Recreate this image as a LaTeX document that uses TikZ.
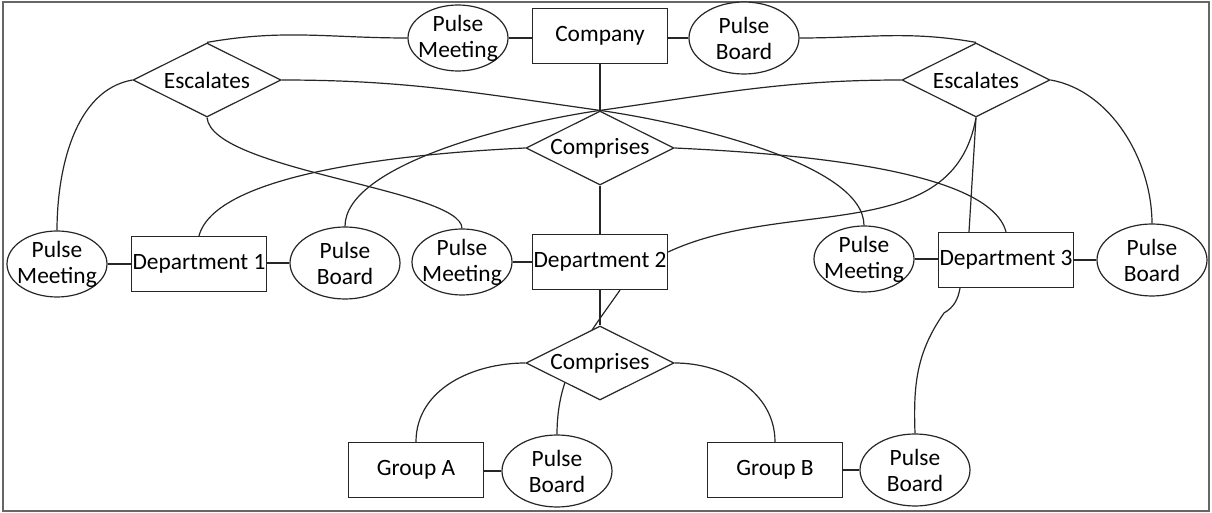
\documentclass[tikz,border=0pt]{standalone}
\usepackage{fontspec}
\setmainfont{Carlito}
\usetikzlibrary{shapes.geometric,calc,backgrounds}
\begin{document}
\begin{tikzpicture}[x=0.5pt,y=0.5pt,
  every node/.style={font=\fontsize{11.7}{13}\selectfont, align=center, text=black},
  link/.style={draw=black!85, line width=0.6pt},
  shapeline/.style={draw=black!85, line width=0.6pt, fill=white},
  entity/.style={shapeline, rectangle, minimum width=67.5pt, minimum height=27.5pt, inner sep=0pt},
  meeting/.style={shapeline, ellipse, minimum width=50pt, minimum height=33pt, inner xsep=-8pt, inner ysep=-8pt},
  board/.style={shapeline, ellipse, minimum width=55pt, minimum height=36pt, inner xsep=-8pt, inner ysep=-8pt},
  relation/.style={shapeline, diamond, aspect=2, minimum width=74pt, minimum height=37pt, inner sep=0pt},
]
\useasboundingbox (0,0) rectangle (1212,-513);
\draw[black!60, line width=1pt] (3,-2) rectangle (1209,-511);

% company level
\node[entity]   (Company) at (600,-36)  {Company};
\node[meeting]  (PM0)     at (458,-38)  {Pulse\\Meeting};
\node[board]    (PB0)     at (744,-38)  {Pulse\\Board};
\node[relation] (EscL)    at (207,-80)  {Escalates};
\node[relation] (EscR)    at (976,-80)  {Escalates};
\node[relation] (Comp1)   at (600,-148) {Comprises};

% department level
\node[meeting]  (PM1)   at (57,-264)   {Pulse\\Meeting};
\node[entity]   (Dept1) at (199,-264)  {Department 1};
\node[board]    (PB1)   at (345,-263)  {Pulse\\Board};
\node[meeting]  (PM2)   at (462,-262)  {Pulse\\Meeting};
\node[entity]   (Dept2) at (600,-262)  {Department 2};
\node[meeting]  (PM3)   at (864,-259)  {Pulse\\Meeting};
\node[entity]   (Dept3) at (1006,-260) {Department 3};
\node[board]    (PB3)   at (1152,-260) {Pulse\\Board};

% group level
\node[relation] (Comp2)  at (600,-363) {Comprises};
\node[entity]   (GroupA) at (416,-470) {Group A};
\node[board]    (PBA)    at (557,-471) {Pulse\\Board};
\node[entity]   (GroupB) at (775,-470) {Group B};
\node[board]    (PBB)    at (915,-470) {Pulse\\Board};

\coordinate (X) at (Comp1.north);
\coordinate (K) at (944,-313);

% short horizontal links
\draw[link] (PM0.east) -- (PM0.east -| Company.west);
\draw[link] (PB0.west) -- (PB0.west -| Company.east);
\draw[link] (PM1.east) -- (PM1.east -| Dept1.west);
\draw[link] (PB1.west) -- (PB1.west -| Dept1.east);
\draw[link] (PM2.east) -- (PM2.east -| Dept2.west);
\draw[link] (PM3.east) -- (PM3.east -| Dept3.west);
\draw[link] (PB3.west) -- (PB3.west -| Dept3.east);
\draw[link] (PBA.west) -- (PBA.west -| GroupA.east);
\draw[link] (PBB.west) -- (PBB.west -| GroupB.east);

% vertical spine
\draw[link] (Company.south) -- (Comp1.north);
\draw[link] (Comp1.south) -- (Dept2.north);
\draw[link] (Dept2.south) -- (Comp2.north);

% escalation links
\draw[link] (EscL.north) to[out=10,in=180] (PM0.west);
\draw[link] (PB0.east) to[out=0,in=170] (EscR.north);
\draw[link] (EscL.west) to[out=190,in=90,looseness=0.9] (PM1.north);
\draw[link] (EscR.east) to[out=-10,in=90,looseness=0.9] (PB3.north);
\draw[link] (EscL.east) to[out=0,in=172] (X)
  .. controls +(90,-13) and +(0,61) .. (PM3.north);
\draw[link] (EscR.west) to[out=180,in=8] (X)
  .. controls +(-90,-13) and +(0,61) .. (PB1.north);
\draw[link] (EscL.south) .. controls +(5,-53) and +(0,39) .. (PM2.north);
\draw[link] (EscR.south) to[out=-100,in=25] ($(Dept2.east)+(0,10)$);
\draw[link] (EscR.south) -- ($(Dept3.north)+(-37,0)$);

% composition links
\draw[link] (Comp1.west) .. controls +(-130,-6) and +(16,61) .. (Dept1.north);
\draw[link] (Comp1.east) .. controls +(130,-6) and +(-16,61) .. (Dept3.north);
\draw[link] (Comp2.west) to[out=180,in=90] (GroupA.north);
\draw[link] (Comp2.east) to[out=0,in=90] (GroupB.north);
\draw[link] ($(Dept3.south)+(-46,0)$) to[out=-100,in=30] (K)
  to[out=235,in=92] (PBB.north);

\begin{scope}[on background layer]
  \draw[link] ($(Dept2.south)+(20,0)$) to[out=235,in=90] (PBA.north);
\end{scope}
\end{tikzpicture}
\end{document}
